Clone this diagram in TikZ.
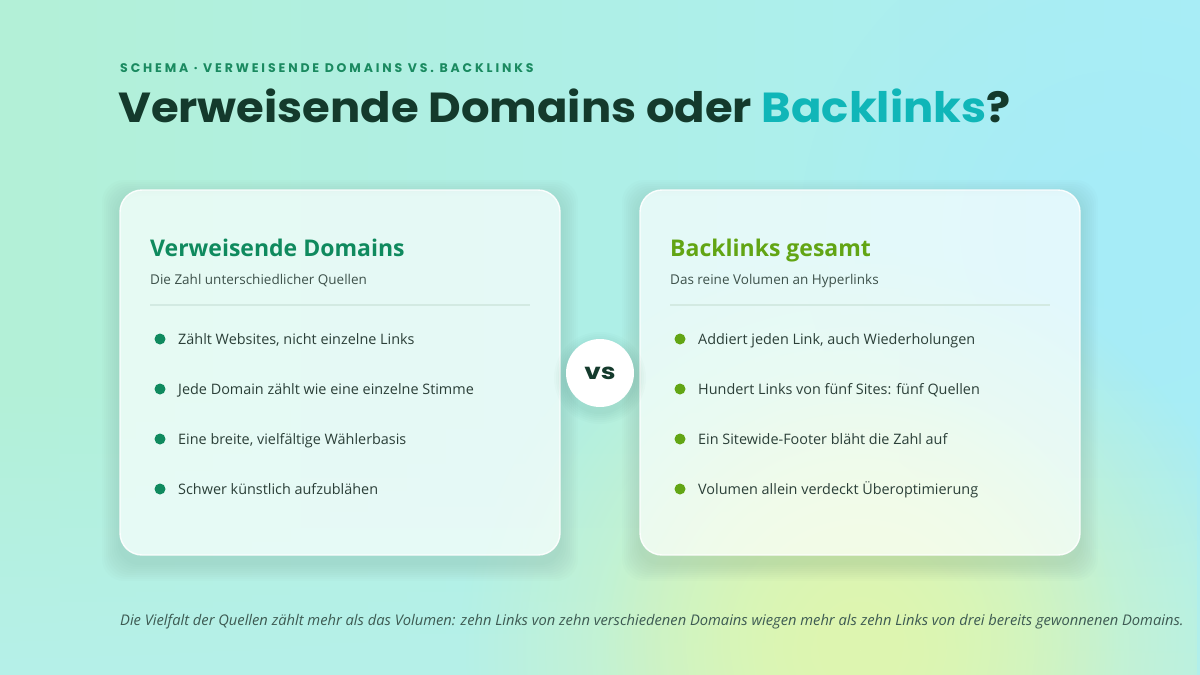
\documentclass[tikz,border=0pt]{standalone}
\usepackage{fontspec}
\usetikzlibrary{fadings}
\setmainfont{Open Sans}
\newfontfamily\titlefont{Poppins}[FakeStretch=1.07]
\newfontfamily\vsfont{Poppins}[FakeStretch=1.2]
\newfontfamily\eyefont{Poppins}
\newfontfamily\bodyfont{Open Sans}
\definecolor{bgA}{HTML}{B3F0D7}
\definecolor{bgB}{HTML}{A9EEF6}
\definecolor{glowY}{HTML}{DEF6B0}
\definecolor{glowC}{HTML}{A6ECF8}
\definecolor{eyebrow}{HTML}{1A8A60}
\definecolor{titledark}{HTML}{143A2C}
\definecolor{teal}{HTML}{10B6B8}
\definecolor{headL}{HTML}{0F8A5E}
\definecolor{headR}{HTML}{62A514}
\definecolor{bodytxt}{HTML}{2B3F38}
\definecolor{subtxt}{HTML}{3D514A}
\definecolor{foot}{HTML}{3D5A52}
\definecolor{divider}{HTML}{D3EAE2}
\tikzfading[name=glowfade, inner color=transparent!0, outer color=transparent!100]
\tikzset{
  card/.style={fill=white, fill opacity=0.68, draw=white, draw opacity=0.9, line width=1.4pt, rounded corners=22pt},
  lbl/.style={anchor=base west, inner sep=0pt, text opacity=1},
  cardhead/.style={lbl, font=\bodyfont\bfseries\fontsize{23}{26}\selectfont},
  cardsub/.style={lbl, text=subtxt, font=\bodyfont\fontsize{13.5}{16}\selectfont},
  bullettxt/.style={lbl, text=bodytxt, font=\bodyfont\fontsize{14.4}{17}\selectfont},
  dotL/.style={circle, fill=headL, minimum size=11pt, inner sep=0pt},
  dotR/.style={circle, fill=headR, minimum size=11pt, inner sep=0pt},
}
\newcommand\softshadow[4]{% x1 y1 x2 y2
  \foreach \k in {2,4,...,18}{
    \fill[titledark, opacity=0.012, even odd rule, rounded corners=22pt]
      (#1-\k,#2-\k+8) rectangle (#3+\k,#4+\k+8) (#1,#2) rectangle (#3,#4);
  }}
\begin{document}
\begin{tikzpicture}[x=1pt,y=-1pt]
\useasboundingbox (0,0) rectangle (1200,675);
% background
\shade[left color=bgA, right color=bgB] (0,0) rectangle (1200,675);
\fill[bgA!50!bgB!90!white, path fading=north] (0,380) rectangle (1200,675);
\fill[glowC, path fading=glowfade] (1120,230) circle (320);
\fill[glowY, path fading=glowfade] (860,650) circle (400);
\fill[glowY, path fading=glowfade] (860,640) circle (260);
% eyebrow
\node[lbl, text=eyebrow, font=\eyefont\fontsize{12.5}{14}\selectfont] (eyebrow) at (120,72)
  {\addfontfeatures{LetterSpace=23}\textbf{SCHEMA · VERWEISENDE DOMAINS VS. BACKLINKS}};
% title
\node[lbl, text=titledark, font=\titlefont\bfseries\fontsize{42}{48}\selectfont] (title) at (118,122)
  {Verweisende Domains oder \textcolor{teal}{Backlinks}?};
% cards
\softshadow{120}{190}{560}{555}
\softshadow{640}{190}{1080}{555}
\path[card] (120,190) rectangle (560,555);
\path[card] (640,190) rectangle (1080,555);
% left card
\node[cardhead, text=headL] (hL) at (150,256) {Verweisende Domains};
\node[cardsub] (sL) at (150,284) {Die Zahl unterschiedlicher Quellen};
\draw[divider, line width=1.2pt] (150,305) coordinate (dL1) -- (530,305) coordinate (dL2);
\foreach \t [count=\i] in {{Zählt Websites, nicht einzelne Links}, {Jede Domain zählt wie eine einzelne Stimme}, {Eine breite, vielfältige Wählerbasis}, {Schwer künstlich aufzublähen}}{
  \node[dotL] (bL\i) at (160,289+50*\i) {};
  \node[bullettxt] (tL\i) at (178,294+50*\i) {\t};
}
% right card
\node[cardhead, text=headR] (hR) at (670,256) {Backlinks gesamt};
\node[cardsub] (sR) at (670,284) {Das reine Volumen an Hyperlinks};
\draw[divider, line width=1.2pt] (670,305) coordinate (dR1) -- (1050,305) coordinate (dR2);
\foreach \t [count=\i] in {{Addiert jeden Link, auch Wiederholungen}, {Hundert Links von fünf Sites: fünf Quellen}, {Ein Sitewide-Footer bläht die Zahl auf}, {Volumen allein verdeckt Überoptimierung}}{
  \node[dotR] (bR\i) at (680,289+50*\i) {};
  \node[bullettxt] (tR\i) at (698,294+50*\i) {\t};
}
% vs
\foreach \k in {2,4,...,12}{
  \fill[titledark, opacity=0.015] (600,378) circle (34+\k);
}
\node[circle, fill=white, minimum size=68pt, inner sep=0pt,
  text=titledark, font=\vsfont\bfseries\fontsize{22}{24}\selectfont] (vs) at (600,373) {vs};
% footer
\node[lbl, text=foot, font=\bodyfont\itshape\fontsize{14.7}{17}\selectfont] (footer) at (120,625)
  {Die Vielfalt der Quellen zählt mehr als das Volumen: zehn Links von zehn verschiedenen Domains wiegen mehr als zehn Links von drei bereits gewonnenen Domains.};
\end{tikzpicture}
\end{document}
